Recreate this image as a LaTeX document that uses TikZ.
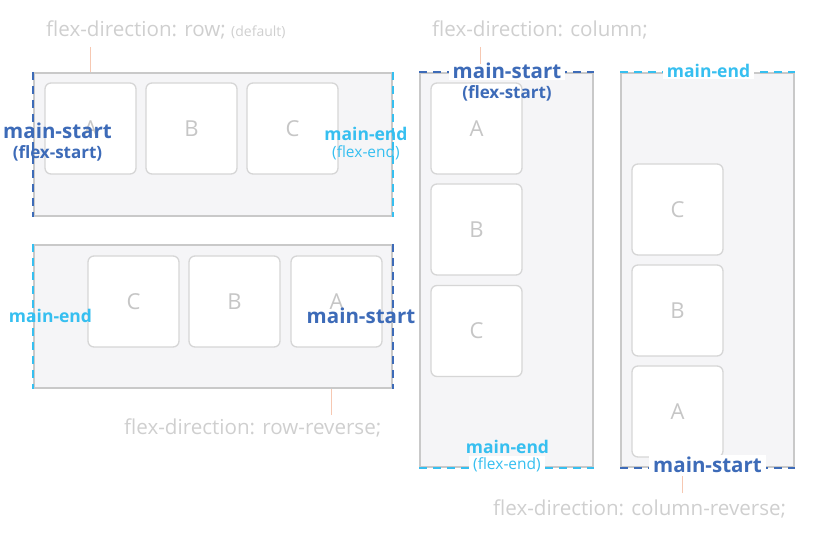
\documentclass[tikz,border=0pt]{standalone}
\usepackage{fontspec}
\setmainfont{Open Sans}
\definecolor{dkblue}{HTML}{3D6BB8}
\definecolor{ltblue}{HTML}{36BFF0}
\definecolor{contfill}{HTML}{F5F5F7}
\definecolor{contline}{HTML}{C9C9C9}
\definecolor{itemline}{HTML}{D6D6D6}
\definecolor{lettercol}{HTML}{C6C6C6}
\definecolor{titlecol}{HTML}{CFCFCF}
\definecolor{tickcol}{HTML}{F6C8B2}
\newcommand{\fsz}[1]{\fontsize{#1}{#1}\selectfont}
\begin{document}
\begin{tikzpicture}[x=1pt,y=-1pt,
  cont/.style={draw=contline, fill=contfill, line width=2pt, inner sep=0pt},
  hbox/.style={cont, minimum width=358pt, minimum height=143pt},
  vbox/.style={cont, minimum width=173pt, minimum height=394pt},
  item/.style={draw=itemline, fill=white, line width=1.3pt, rounded corners=6pt,
    minimum size=91pt, inner sep=0pt, text=lettercol, font=\fsz{22}},
  darkdash/.style={draw=dkblue, line width=2.8pt, dash pattern=on 8pt off 6pt},
  lightdash/.style={draw=ltblue, line width=2.8pt, dash pattern=on 8pt off 6pt},
  big/.style={anchor=base, inner sep=0pt, font=\bfseries\fsz{20.5}},
  mid/.style={anchor=base, inner sep=0pt, font=\bfseries\fsz{17.5}},
  paren/.style={anchor=base, inner sep=0pt, font=\bfseries\fsz{17}},
  sparen/.style={anchor=base, inner sep=0pt, font=\fsz{15.5}},
  onedge/.style={fill=white, inner xsep=4pt, inner ysep=1pt},
  title/.style={anchor=base west, inner sep=0pt, text=titlecol, font=\fsz{20.6}},
  tickln/.style={draw=tickcol, line width=0.8pt}]
\useasboundingbox (0,0) rectangle (817,537);

% containers
\node[hbox] (p1) at (213,144.5) {};
\node[hbox] (p2) at (213,316.5) {};
\node[vbox] (p3) at (506.5,270) {};
\node[vbox] (p4) at (707.5,270) {};

% items
\node[item] (p1a) at (90.5,128.5) {A};
\node[item] (p1b) at (191.5,128.5) {B};
\node[item] (p1c) at (292.5,128.5) {C};
\node[item] (p2c) at (133.5,301.5) {C};
\node[item] (p2b) at (234.5,301.5) {B};
\node[item] (p2a) at (336.5,301.5) {A};
\node[item] (p3a) at (476.5,128.5) {A};
\node[item] (p3b) at (476.5,229.5) {B};
\node[item] (p3c) at (476.5,331) {C};
\node[item] (p4c) at (677.5,209.5) {C};
\node[item] (p4b) at (677.5,310.5) {B};
\node[item] (p4a) at (677.5,411.5) {A};

% dashed edges
\draw[darkdash] (p1.north west) -- (p1.south west);
\draw[lightdash] (p1.north east) -- (p1.south east);
\draw[lightdash] (p2.north west) -- (p2.south west);
\draw[darkdash] (p2.north east) -- (p2.south east);
\draw[darkdash] (p3.north west) -- (p3.north east);
\draw[lightdash] (p3.south west) -- (p3.south east);
\draw[lightdash] (p4.north west) -- (p4.north east);
\draw[darkdash] (p4.south west) -- (p4.south east);

% labels panel 1
\node[big, text=dkblue] (l1s) at (57.5,139) {main-start};
\node[paren, text=dkblue] (l1sp) at (57.5,159) {(flex-start)};
\node[mid, text=ltblue] (l1e) at (366,141) {main-end};
\node[sparen, text=ltblue] (l1ep) at (366,158) {(flex-end)};
% labels panel 2
\node[mid, text=ltblue] (l2e) at (50.5,323) {main-end};
\node[big, text=dkblue] (l2s) at (361,324) {main-start};
% labels panel 3
\node[big, onedge, text=dkblue] (l3s) at (507,79) {main-start};
\node[paren, text=dkblue] (l3sp) at (507,99) {(flex-start)};
\node[mid, text=ltblue] (l3e) at (507.5,453) {main-end};
\node[sparen, onedge, text=ltblue] (l3ep) at (507,469) {(flex-end)};
% labels panel 4
\node[mid, onedge, text=ltblue] (l4e) at (708.5,78) {main-end};
\node[big, onedge, text=dkblue] (l4s) at (707.5,472) {main-start};

% titles
\node[title] (t1) at (46,37) {flex-direction: row; {\fsz{14}(default)}};
\node[title] (t2) at (124,434) {flex-direction: row-reverse;};
\node[title] (t3) at (432,37) {flex-direction: column;};
\node[title] (t4) at (493,515) {flex-direction: column-reverse;};

% ticks
\coordinate (k1) at (90,47);
\draw[tickln] (k1) -- (k1 |- p1.north);
\coordinate (k2) at (331,415);
\draw[tickln] (k2) -- (k2 |- p2.south);
\coordinate (k3) at (480.5,47);
\draw[tickln] (k3) -- (480.5,64);
\coordinate (k4) at (682,493);
\draw[tickln] (k4) -- (682,476);
\end{tikzpicture}
\end{document}
